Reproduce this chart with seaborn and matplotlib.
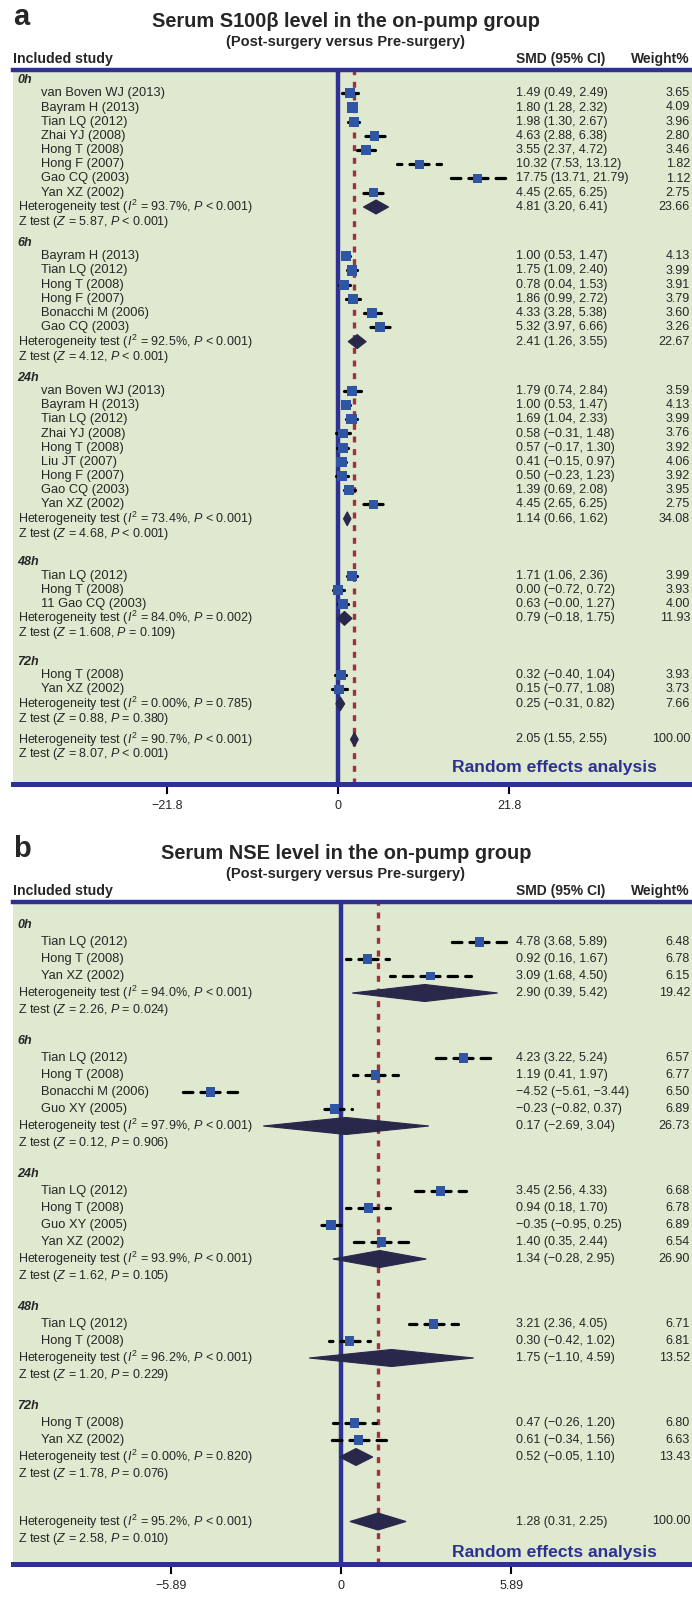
import matplotlib
matplotlib.use('Agg')
import matplotlib.pyplot as plt
import matplotlib.transforms as mtransforms
import pandas as pd
import seaborn as sns

# ---------------- panel a : serum S100beta ----------------
a_time = ['0h'] * 8 + ['6h'] * 6 + ['24h'] * 9 + ['48h'] * 3 + ['72h'] * 2
a_study = ['van Boven WJ (2013)', 'Bayram H (2013)', 'Tian LQ (2012)', 'Zhai YJ (2008)',
           'Hong T (2008)', 'Hong F (2007)', 'Gao CQ (2003)', 'Yan XZ (2002)',
           'Bayram H (2013)', 'Tian LQ (2012)', 'Hong T (2008)', 'Hong F (2007)',
           'Bonacchi M (2006)', 'Gao CQ (2003)',
           'van Boven WJ (2013)', 'Bayram H (2013)', 'Tian LQ (2012)', 'Zhai YJ (2008)',
           'Hong T (2008)', 'Liu JT (2007)', 'Hong F (2007)', 'Gao CQ (2003)', 'Yan XZ (2002)',
           'Tian LQ (2012)', 'Hong T (2008)', '11 Gao CQ (2003)',
           'Hong T (2008)', 'Yan XZ (2002)']
a_smd = [1.49, 1.80, 1.98, 4.63, 3.55, 10.32, 17.75, 4.45,
         1.00, 1.75, 0.78, 1.86, 4.33, 5.32,
         1.79, 1.00, 1.69, 0.58, 0.57, 0.41, 0.50, 1.39, 4.45,
         1.71, 0.00, 0.63,
         0.32, 0.15]
a_lo = [0.49, 1.28, 1.30, 2.88, 2.37, 7.53, 13.71, 2.65,
        0.53, 1.09, 0.04, 0.99, 3.28, 3.97,
        0.74, 0.53, 1.04, -0.31, -0.17, -0.15, -0.23, 0.69, 2.65,
        1.06, -0.72, -0.0,
        -0.40, -0.77]
a_hi = [2.49, 2.32, 2.67, 6.38, 4.72, 13.12, 21.79, 6.25,
        1.47, 2.40, 1.53, 2.72, 5.38, 6.66,
        2.84, 1.47, 2.33, 1.48, 1.30, 0.97, 1.23, 2.08, 6.25,
        2.36, 0.72, 1.27,
        1.04, 1.08]
a_weight = [3.65, 4.09, 3.96, 2.80, 3.46, 1.82, 1.12, 2.75,
            4.13, 3.99, 3.91, 3.79, 3.60, 3.26,
            3.59, 4.13, 3.99, 3.76, 3.92, 4.06, 3.92, 3.95, 2.75,
            3.99, 3.93, 4.00,
            3.93, 3.73]
# subgroup + overall pooled rows
a_pool_smd = [4.81, 2.41, 1.14, 0.79, 0.25, 2.05]
a_pool_lo = [3.20, 1.26, 0.66, -0.18, -0.31, 1.55]
a_pool_hi = [6.41, 3.55, 1.62, 1.75, 0.82, 2.55]
a_pool_weight = [23.66, 22.67, 34.08, 11.93, 7.66, 100.00]
a_i2 = ['93.7%', '92.5%', '73.4%', '84.0%', '0.00%', '90.7%']
a_het_p = ['< 0.001', '< 0.001', '< 0.001', '= 0.002', '= 0.785', '< 0.001']
a_z = ['5.87', '4.12', '4.68', '1.608', '0.88', '8.07']
a_z_p = ['< 0.001', '< 0.001', '< 0.001', '= 0.109', '= 0.380', '< 0.001']
a_ticks = [-21.8, 0, 21.8]

# ---------------- panel b : serum NSE ----------------
b_time = ['0h'] * 3 + ['6h'] * 4 + ['24h'] * 4 + ['48h'] * 2 + ['72h'] * 2
b_study = ['Tian LQ (2012)', 'Hong T (2008)', 'Yan XZ (2002)',
           'Tian LQ (2012)', 'Hong T (2008)', 'Bonacchi M (2006)', 'Guo XY (2005)',
           'Tian LQ (2012)', 'Hong T (2008)', 'Guo XY (2005)', 'Yan XZ (2002)',
           'Tian LQ (2012)', 'Hong T (2008)',
           'Hong T (2008)', 'Yan XZ (2002)']
b_smd = [4.78, 0.92, 3.09, 4.23, 1.19, -4.52, -0.23, 3.45, 0.94, -0.35, 1.40, 3.21, 0.30, 0.47, 0.61]
b_lo = [3.68, 0.16, 1.68, 3.22, 0.41, -5.61, -0.82, 2.56, 0.18, -0.95, 0.35, 2.36, -0.42, -0.26, -0.34]
b_hi = [5.89, 1.67, 4.50, 5.24, 1.97, -3.44, 0.37, 4.33, 1.70, 0.25, 2.44, 4.05, 1.02, 1.20, 1.56]
b_weight = [6.48, 6.78, 6.15, 6.57, 6.77, 6.50, 6.89, 6.68, 6.78, 6.89, 6.54, 6.71, 6.81, 6.80, 6.63]
b_pool_smd = [2.90, 0.17, 1.34, 1.75, 0.52, 1.28]
b_pool_lo = [0.39, -2.69, -0.28, -1.10, -0.05, 0.31]
b_pool_hi = [5.42, 3.04, 2.95, 4.59, 1.10, 2.25]
b_pool_weight = [19.42, 26.73, 26.90, 13.52, 13.43, 100.00]
b_i2 = ['94.0%', '97.9%', '93.9%', '96.2%', '0.00%', '95.2%']
b_het_p = ['< 0.001', '< 0.001', '< 0.001', '< 0.001', '= 0.820', '< 0.001']
b_z = ['2.26', '0.12', '1.62', '1.20', '1.78', '2.58']
b_z_p = ['= 0.024', '= 0.906', '= 0.105', '= 0.229', '= 0.076', '= 0.010']
b_ticks = [-5.89, 0, 5.89]

# colours
green = '#dfe9d0'
blue = '#2e3192'
red = '#a2303b'
square = '#2f55a5'
navy = '#27284a'

sns.set_style('white')
plt.rcParams['font.family'] = ['Liberation Sans', 'DejaVu Sans']
plt.rcParams['mathtext.fontset'] = 'custom'
plt.rcParams['mathtext.rm'] = 'Liberation Sans'
plt.rcParams['mathtext.it'] = 'Liberation Sans:italic'
plt.rcParams['mathtext.bf'] = 'Liberation Sans:bold'
narrow = ['Liberation Sans Narrow', 'Liberation Sans']

W, H = 692, 1598
fig = plt.figure(figsize=(W / 100, H / 100), dpi=100)
fig.patch.set_facecolor('white')


def fx(px):
    return px / W


def fy(py):
    return 1 - py / H


def num(v):
    return f'{v:.2f}'.replace('-', '\u2212')


def rows(times, first, lead, step, het_step, z_step, gaps, last_gap):
    groups = list(dict.fromkeys(times))
    y = first
    lab, stu, het, zz = [], [], [], []
    for i, g in enumerate(groups):
        if i:
            y += gaps[i - 1]
        lab.append(y)
        for k in range(times.count(g)):
            y += lead if k == 0 else step
            stu.append(y)
        y += het_step
        het.append(y)
        y += z_step
        zz.append(y)
    y += last_gap
    het.append(y)
    y += z_step
    zz.append(y)
    return groups, lab, stu, het, zz


def panel(letter, title, top, bottom, zero_px, ppu, ticks, lay, diam_h, sizes,
          times, study, smd, lo, hi, weight,
          p_smd, p_lo, p_hi, p_w, i2, het_p, z, z_p):
    ax = fig.add_axes([fx(12.5), fy(bottom), 1 - fx(12.5), (bottom - top) / H])
    ax.set_facecolor(green)
    groups, lab_y, stu_y, het_y, z_y = rows(times, *lay)

    # header texts
    fig.text(fx(13), fy(top - 45), letter, fontsize=21, fontweight='bold', va='baseline')
    fig.text(0.5, fy(top - 43), title, fontsize=14.4, fontweight='bold', ha='center', va='baseline')
    fig.text(0.5, fy(top - 24), '(Post-surgery versus Pre-surgery)', fontsize=10.5,
             fontweight='bold', ha='center', va='baseline')
    fig.text(fx(12.5), fy(top - 6.5), 'Included study', fontsize=10.2, fontweight='bold', va='baseline')
    fig.text(fx(516), fy(top - 6.5), 'SMD (95% CI)', fontsize=10, fontweight='bold', va='baseline')
    fig.text(fx(690), fy(top - 6.5), 'Weight%', fontsize=10, fontweight='bold', va='baseline', ha='right')

    ax.axvline(0, color=blue, lw=3.2, zorder=2)
    ax.axvline(p_smd[-1], color=red, lw=2.4, linestyle=(0, (1.8, 2.0)), zorder=3)

    df = pd.DataFrame({'smd': smd, 'y': stu_y, 'weight': weight})
    for s, l, h, y in zip(smd, lo, hi, stu_y):
        for end in (l, h):
            ax.plot([s, end], [y, y], color='black', lw=2.3, linestyle=(0, (3.0, 2.5)),
                    dash_capstyle='round', solid_capstyle='round', zorder=4)
    sns.scatterplot(data=df, x='smd', y='y', size='weight', sizes=sizes, marker='s',
                    color=square, edgecolor='none', linewidth=0, legend=False, ax=ax, zorder=6)

    for s, l, h, y in zip(p_smd, p_lo, p_hi, het_y):
        ax.fill([l, s, h, s], [y, y - diam_h / 2, y, y + diam_h / 2], color=navy, lw=0.8,
                ec=navy, zorder=5)

    tr = mtransforms.blended_transform_factory(fig.transFigure, ax.transData)
    kw = dict(transform=tr, va='center', fontsize=9)
    for g, y in zip(groups, lab_y):
        ax.text(fx(17.5), y, g, fontweight='bold', fontstyle='italic', **kw)
    for name, s, l, h, w, y in zip(study, smd, lo, hi, weight, stu_y):
        ax.text(fx(41), y, name, transform=tr, va='center', fontsize=9.25)
        ax.text(fx(516.5), y, f'{num(s)} ({num(l)}, {num(h)})', family=narrow, **kw)
        ax.text(fx(690), y, f'{w:.2f}', family=narrow, ha='right', **kw)
    for k, y in enumerate(het_y):
        ax.text(fx(17.5), y, rf'Heterogeneity test ($I^2$ = {i2[k]}, $P$ {het_p[k]})', **kw)
        ax.text(fx(516.5), y, f'{num(p_smd[k])} ({num(p_lo[k])}, {num(p_hi[k])})', family=narrow, **kw)
        ax.text(fx(690), y, f'{p_w[k]:.2f}', family=narrow, ha='right', **kw)
    for k, y in enumerate(z_y):
        ax.text(fx(17.5), y, rf'Z test ($Z$ = {z[k]}, $P$ {z_p[k]})', **kw)
    ax.text(fx(656.5), z_y[-1] + 13.5, 'Random effects analysis', transform=tr, ha='right',
            va='center', fontsize=12.6, fontweight='bold', color=blue)

    ax.set_xlim((12.5 - zero_px) / ppu, (W - zero_px) / ppu)
    ax.set_ylim(bottom, top)
    ax.set_xticks(ticks)
    ax.set_xticklabels([('0' if t == 0 else f'{t:g}'.replace('-', '\u2212')) for t in ticks])
    ax.set_yticks([])
    ax.set_xlabel('')
    ax.set_ylabel('')
    ax.tick_params(axis='x', bottom=True, direction='out', length=7.2, width=1.5,
                   color='black', labelsize=9, pad=4)
    for side in ['left', 'right']:
        ax.spines[side].set_visible(False)
    ax.spines['top'].set_color(blue)
    ax.spines['top'].set_linewidth(3.2)
    ax.spines['bottom'].set_color(blue)
    ax.spines['bottom'].set_linewidth(3.6)
    ax.spines['top'].set_zorder(7)
    ax.spines['bottom'].set_zorder(7)
    return ax


panel('a', 'Serum S100\u03b2 level in the on-pump group', 70, 784, 338.3, 7.844, a_ticks,
      (80, 13.3, 14.2, 14.3, 15.0, [21, 21, 28.6, 28.6], 20.7), 14, (36, 54),
      a_time, a_study, a_smd, a_lo, a_hi, a_weight,
      a_pool_smd, a_pool_lo, a_pool_hi, a_pool_weight, a_i2, a_het_p, a_z, a_z_p)

panel('b', 'Serum NSE level in the on-pump group', 902, 1564, 341, 28.9, b_ticks,
      (925, 17, 17, 17, 17, [31, 31, 31, 31], 47.5), 17, (40, 46),
      b_time, b_study, b_smd, b_lo, b_hi, b_weight,
      b_pool_smd, b_pool_lo, b_pool_hi, b_pool_weight, b_i2, b_het_p, b_z, b_z_p)

fig.savefig('out.png', dpi=100, facecolor='white')
